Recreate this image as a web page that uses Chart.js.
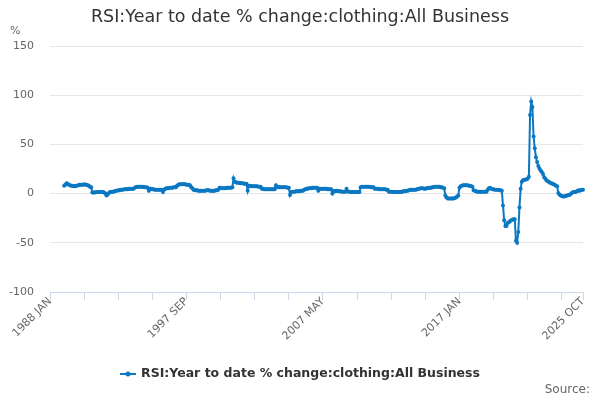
<!DOCTYPE html>
<html>
<head>
<meta charset="utf-8">
<script src="https://cdn.jsdelivr.net/npm/chart.js@4.4.1/dist/chart.umd.min.js"></script>
<style>
html,body{margin:0;padding:0;background:#fff;}
#wrap{width:600px;height:400px;position:relative;}
</style>
</head>
<body>
<div id="wrap"><canvas id="c" width="600" height="400"></canvas></div>
<script>
const chartTitle = 'RSI:Year to date % change:clothing:All Business';
const seriesName = 'RSI:Year to date % change:clothing:All Business';
const unitLabel = '%';
const sourceText = 'Source:';
const years = [];
for (let y = 1988; y <= 2025; y++) years.push(y);
const monthNames = ['JAN','FEB','MAR','APR','MAY','JUN','JUL','AUG','SEP','OCT','NOV','DEC'];
const categories = [];
years.forEach(y => monthNames.forEach((m, k) => { if (y < 2025 || k <= 9) categories.push(y + ' ' + m); }));

// one row per year (1988 .. 2025 OCT)
const values = [
  null,null,null,null,null,null,null,null,null,null,null,null,
  8, 9, 10.5, 10, 9, 8.5, 8, 8, 7.5, 7.5, 8, 8,
  8.5, 9, 9, 9, 9, 9.5, 9, 9, 8.5, 8, 7, 6.5,
  1, 1, 1.2, 1.3, 1.5, 1.5, 1.5, 1.7, 1.5, 1.5, 1, 0,
  -2, -1, 0.5, 1.5, 1.5, 2, 2, 2.5, 3, 3, 3.5, 3.5,
  4, 4, 4, 4.5, 4.5, 4.5, 4.5, 5, 5, 5, 4.8, 5,
  6, 6.5, 7, 7, 7, 7, 7, 7, 6.5, 6.5, 6.5, 6,
  3, 5, 5, 4.5, 4.5, 4, 4, 4, 4, 4, 4, 4,
  1.5, 4, 5, 5.5, 5.5, 5.5, 6, 6, 6, 6.5, 6.5, 6.5,
  8, 9, 9.5, 9.5, 9.5, 9.5, 9.5, 9.5, 9, 9, 9, 8.5,
  6.5, 5.5, 4, 3.5, 3.5, 3.5, 3, 3, 3, 3, 3, 3,
  3, 3.5, 3.5, 3.5, 3, 3, 3, 3, 3, 3.5, 3.5, 4,
  6, 6, 5.5, 5.5, 5.5, 5.5, 6, 6, 6, 6, 6, 6.5,
  15.5, 12, 11.5, 11, 11, 11, 10.5, 10.5, 10.5, 10, 10, 10,
  3, 8, 8, 7.5, 7.5, 7.5, 7.5, 7.5, 7.5, 7, 7, 7,
  5, 5, 4.5, 4.5, 4.5, 4.5, 4.5, 4.5, 4.5, 4.5, 4.5, 4.5,
  8.5, 7, 6.5, 6.5, 6.5, 6.5, 6.5, 6.5, 6.5, 6.5, 6, 6,
  -1.5, 1.5, 2, 2, 2, 2.5, 2.5, 2.5, 2.5, 3, 3, 3,
  4, 4.5, 5, 5, 5.5, 5.5, 5.5, 6, 6, 6, 6, 6,
  3, 5, 5, 5, 5, 5, 5, 5, 4.5, 4.5, 4.5, 4.5,
  0, 2.5, 2.5, 3, 3, 2.5, 2.5, 2.5, 2, 2, 2, 2,
  5, 2.5, 2, 1.5, 1.5, 1.5, 1.5, 1.5, 1.5, 1.5, 1.5, 1.5,
  6.5, 7, 7, 7, 7, 7, 7, 7, 7, 6.5, 6.5, 6.5,
  5, 5, 5, 5, 4.5, 4.5, 4.5, 4.5, 4.5, 4.5, 4, 4,
  2, 2, 2, 2, 1.5, 1.5, 1.5, 1.5, 1.5, 1.5, 1.5, 1.5,
  2.5, 2.5, 2.5, 3, 3, 3.5, 4, 4, 4, 4, 4, 4,
  4.5, 5, 5, 5.5, 5.5, 5.5, 5, 5, 5.5, 5.5, 6, 6,
  6, 6.5, 6.5, 7, 7, 7, 7, 7, 6.5, 6.5, 6, 5.5,
  -2, -4, -5, -5, -5, -5, -5, -5, -4.5, -4, -3, -2,
  6, 7.5, 8, 8.5, 8.5, 8.5, 8.5, 8.5, 8, 8, 7.5, 7,
  3.5, 3, 2.5, 2, 2, 2, 2, 2, 2, 2, 2, 2,
  4, 5.5, 6, 5, 4.5, 4.5, 4, 4, 4, 4, 3.5, 3.5,
  3, -12, -27, -33, -33, -30, -29, -28, -27, -26.5, -26, -26,
  -48, -50, -39, -14, 5, 12, 13.5, 14, 14, 14.5, 15, 17,
  80, 93.5, 88, 58, 46, 37, 32, 28, 25.5, 23.5, 22, 20,
  16.5, 15, 13.5, 12.5, 12, 11, 10.5, 10, 9.5, 9, 8, 7.5,
  0.5, -1, -2, -2.5, -3, -3, -2.5, -2, -2, -1.5, -1, 0,
  1, 1.5, 1.5, 2, 2.5, 3.5, 3, 3.5, 4, 4
];

const tickLabels = ['1988 JAN', '1997 SEP', '2007 MAY', '2017 JAN', '2025 OCT'];
const yTicks = [-100, -50, 0, 50, 100, 150];
const tickEvery = 29;

const lineColor = '#0a78c2';
const font = "'DejaVu Sans', sans-serif";

const textPlugin = {
  id: 'texts',
  afterDraw(chart) {
    const ctx = chart.ctx;
    ctx.save();
    // title
    ctx.fillStyle = '#333333';
    ctx.font = '17.5px ' + font;
    ctx.textAlign = 'center';
    ctx.textBaseline = 'middle';
    ctx.fillText(chartTitle, 300, 17);
    // unit
    ctx.fillStyle = '#666666';
    ctx.font = '11px ' + font;
    ctx.textAlign = 'left';
    ctx.fillText(unitLabel, 10, 31);
    // legend
    ctx.font = 'bold 12.5px ' + font;
    const tw = ctx.measureText(seriesName).width;
    const total = 16 + 5 + tw;
    const x0 = 300 - total / 2;
    const ly = 374;
    ctx.strokeStyle = lineColor;
    ctx.lineWidth = 2;
    ctx.beginPath(); ctx.moveTo(x0, ly); ctx.lineTo(x0 + 16, ly); ctx.stroke();
    ctx.fillStyle = lineColor;
    ctx.beginPath(); ctx.arc(x0 + 8, ly, 2.5, 0, Math.PI * 2); ctx.fill();
    ctx.fillStyle = '#333333';
    ctx.textAlign = 'left';
    ctx.fillText(seriesName, x0 + 21, ly);
    // source
    ctx.fillStyle = '#666666';
    ctx.font = '12px ' + font;
    ctx.textAlign = 'right';
    ctx.fillText(sourceText, 590, 390);
    ctx.restore();
  }
};

const lastIdx = categories.length - 1;
const isTick = i => i % tickEvery === 0 || i === lastIdx;

new Chart(document.getElementById('c'), {
  type: 'line',
  data: {
    labels: categories,
    datasets: [{
      label: seriesName,
      data: values,
      borderColor: lineColor,
      backgroundColor: lineColor,
      borderWidth: 2,
      pointRadius: 2,
      pointHoverRadius: 2,
      pointBorderWidth: 0,
      tension: 0,
      spanGaps: false
    }]
  },
  options: {
    responsive: false,
    animation: false,
    events: [],
    layout: { padding: { top: 46, right: 17, left: 0, bottom: 0 } },
    plugins: { legend: { display: false }, title: { display: false }, tooltip: { enabled: false } },
    scales: {
      x: {
        type: 'category',
        offset: false,
        afterFit(s) { s.height = 108; },
        border: { display: true, color: '#ccd6eb', width: 1 },
        grid: {
          drawOnChartArea: false,
          drawTicks: true,
          tickLength: 8,
          color: c => isTick(c.index) ? '#ccd6eb' : 'rgba(0,0,0,0)'
        },
        ticks: {
          autoSkip: false,
          maxRotation: 45,
          minRotation: 45,
          padding: -5,
          color: '#666666',
          font: { family: font, size: 11 },
          callback: (v, i) => tickLabels.includes(categories[i]) ? categories[i] : ''
        }
      },
      y: {
        min: -100,
        max: 150,
        afterFit(s) { s.width = 50; },
        afterBuildTicks(s) { s.ticks = yTicks.map(v => ({ value: v })); },
        border: { display: false },
        grid: { color: '#e6e6e6', drawTicks: false, lineWidth: 1 },
        ticks: {
          padding: 16,
          color: '#666666',
          font: { family: font, size: 11 }
        }
      }
    }
  },
  plugins: [textPlugin]
});
</script>
</body>
</html>
